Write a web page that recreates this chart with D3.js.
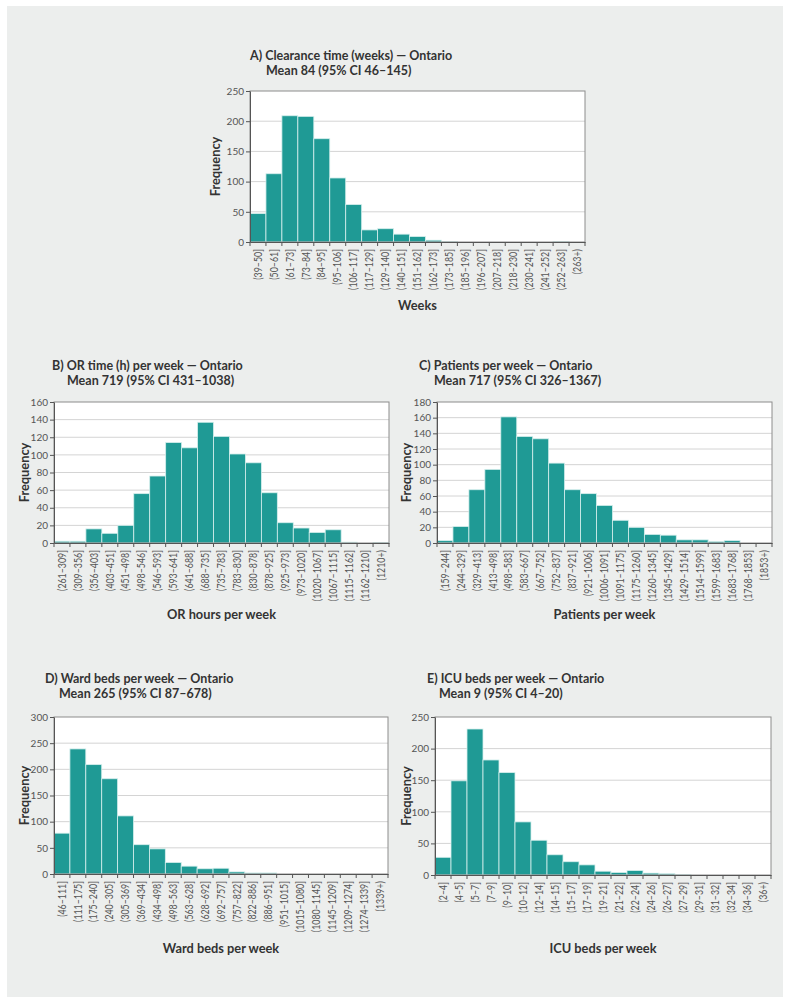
<!DOCTYPE html>
<html><head><meta charset="utf-8">
<script src="https://cdn.jsdelivr.net/npm/d3@7"></script>
<style>body{margin:0;background:#fff;} svg{display:block;}</style>
</head><body><svg id="c" width="791" height="1004"></svg>
<script>
// ---- Data ----
const clearanceLabels = ["(39–50]","(50–61]","(61–73]","(73–84]","(84–95]","(95–106]","(106–117]","(117–129]","(129–140]","(140–151]","(151–162]","(162–173]","(173–185]","(185–196]","(196–207]","(207–218]","(218–230]","(230–241]","(241–252]","(252–263]","(263+)"];
const clearanceValues = [47,113,209,208,171,106,62,20,22,13,9,3,1,0,0,0,0,0,0,1,0];
const clearanceTicks = [0,50,100,150,200,250];

const orLabels = ["(261–309]","(309–356]","(356–403]","(403–451]","(451–498]","(498–546]","(546–593]","(593–641]","(641–688]","(688–735]","(735–783]","(783–830]","(830–878]","(878–925]","(925–973]","(973–1020]","(1020–1067]","(1067–1115]","(1115–1162]","(1162–1210]","(1210+)"];
const orValues = [2,2,16,11,20,56,76,114,108,137,121,101,91,57,23,17,12,15,1,0,0.6];
const orTicks = [0,20,40,60,80,100,120,140,160];

const patientLabels = ["(159–244]","(244–329]","(329–413]","(413–498]","(498–583]","(583–667]","(667–752]","(752–837]","(837–921]","(921–1006]","(1006–1091]","(1091–1175]","(1175–1260]","(1260–1345]","(1345–1429]","(1429–1514]","(1514–1599]","(1599–1683]","(1683–1768]","(1768–1853]","(1853+)"];
const patientValues = [3,21,68,94,161,136,133,102,68,63,48,29,20,11,10,4,4,2,3,0,0];
const patientTicks = [0,20,40,60,80,100,120,140,160,180];

const wardLabels = ["(46–111]","(111–175]","(175–240]","(240–305]","(305–369]","(369–434]","(434–498]","(498–563]","(563–628]","(628–692]","(692–757]","(757–822]","(822–886]","(886–951]","(951–1015]","(1015–1080]","(1080–1145]","(1145–1209]","(1209–1274]","(1274–1339]","(1339+)"];
const wardValues = [78,239,209,182,111,56,48,22,15,10,11,4,2,2,0,0,0,0,0,0,0];
const wardTicks = [0,50,100,150,200,250,300];

const icuLabels = ["(2–4]","(4–5]","(5–7]","(7–9]","(9–10]","(10–12]","(12–14]","(14–15]","(15–17]","(17–19]","(19–21]","(21–22]","(22–24]","(24–26]","(26–27]","(27–29]","(29–31]","(31–32]","(32–34]","(34–36]","(36+)"];
const icuValues = [28,149,231,182,162,84,55,32,21,16,6,4,7,3,2,1,0,0,0,0,0];
const icuTicks = [0,50,100,150,200,250];

// ---- Drawing ----
const FONT = "Lato, 'Open Sans', sans-serif";
const BAR = "#1f9a95";
const svg = d3.select("#c");
svg.append("rect").attr("x",7).attr("y",6).attr("width",776).attr("height",991).attr("fill","#eceeed");

function panel(o){
  const x = d3.scaleBand().domain(o.labels).range([o.x0, o.x1]);
  const y = d3.scaleLinear().domain([0, o.ticks[o.ticks.length-1]]).range([o.y1, o.y0]);
  const g = svg.append("g");
  g.append("rect").attr("x",o.x0).attr("y",o.y0).attr("width",o.x1-o.x0).attr("height",o.y1-o.y0).attr("fill","#fff");
  g.selectAll("line.grid").data(o.ticks.slice(1,-1)).join("line")
    .attr("x1",o.x0).attr("x2",o.x1).attr("y1",d=>y(d)).attr("y2",d=>y(d))
    .attr("stroke","#d4d4d4").attr("stroke-width",1);
  g.selectAll("rect.bar").data(o.values).join("rect")
    .attr("x",(d,i)=>x(o.labels[i])).attr("width",x.bandwidth())
    .attr("y",d=>y(d)).attr("height",d=>o.y1-y(d))
    .attr("fill",BAR).attr("stroke","#d6efed").attr("stroke-width",0.8);
  g.append("rect").attr("x",o.x0).attr("y",o.y0).attr("width",o.x1-o.x0).attr("height",o.y1-o.y0)
    .attr("fill","none").attr("stroke","#8c8c8c").attr("stroke-width",1);
  // y axis
  const ya = g.append("g").attr("transform",`translate(${o.x0},0)`)
    .call(d3.axisLeft(y).tickValues(o.ticks).tickSize(4).tickPadding(2).tickSizeOuter(0));
  ya.select(".domain").attr("stroke","#555");
  ya.selectAll(".tick line").attr("stroke","#555");
  ya.selectAll("text").attr("font-family",FONT).attr("font-size",10).attr("fill","#555");
  // x axis
  const xa = g.append("g").attr("transform",`translate(0,${o.y1})`)
    .call(d3.axisBottom(x).tickSize(0).tickSizeOuter(0));
  xa.select(".domain").attr("stroke","#555");
  xa.selectAll("text").attr("font-family",FONT).attr("font-size",10.5).attr("fill","#555")
    .attr("transform","rotate(-90) scale(0.84,1)").attr("text-anchor","end")
    .attr("x",-8.5).attr("y",0).attr("dy","0.35em");
  const edges = o.labels.map(l=>x(l)).concat([o.x1]);
  xa.selectAll("line.edge").data(edges).join("line")
    .attr("x1",d=>d).attr("x2",d=>d).attr("y1",0).attr("y2",4).attr("stroke","#555");
  // labels
  g.append("text").attr("transform",`translate(${o.x0+o.yLabDx},${(o.y0+o.y1)/2}) rotate(-90)`)
    .attr("text-anchor","middle").attr("dy","0.35em")
    .attr("font-family",FONT).attr("font-weight",700).attr("font-size",12.8).attr("fill","#333").text("Frequency");
  g.append("text").attr("x",(o.x0+o.x1)/2).attr("y",o.xTitleY).attr("text-anchor","middle")
    .attr("font-family",FONT).attr("font-weight",700).attr("font-size",12.8).attr("fill","#333").text(o.xTitle);
  g.append("text").attr("x",o.tx).attr("y",o.ty)
    .attr("font-family",FONT).attr("font-weight",700).attr("font-size",12.5).attr("fill","#333").text(o.title);
  g.append("text").attr("x",o.mx).attr("y",o.ty+15)
    .attr("font-family",FONT).attr("font-weight",700).attr("font-size",12.5).attr("fill","#333").text(o.mean);
}

panel({labels:clearanceLabels, values:clearanceValues, ticks:clearanceTicks,
  x0:250, x1:585, y0:91, y1:242, yLabDx:-34, xTitleY:310, xTitle:"Weeks",
  tx:250, ty:60, mx:266, title:"A) Clearance time (weeks) — Ontario", mean:"Mean 84 (95% CI 46–145)"});
panel({labels:orLabels, values:orValues, ticks:orTicks,
  x0:54, x1:389, y0:402, y1:543, yLabDx:-29, xTitleY:619, xTitle:"OR hours per week",
  tx:52, ty:370, mx:67, title:"B) OR time (h) per week — Ontario", mean:"Mean 719 (95% CI 431–1038)"});
panel({labels:patientLabels, values:patientValues, ticks:patientTicks,
  x0:437, x1:772, y0:402, y1:543, yLabDx:-30, xTitleY:619, xTitle:"Patients per week",
  tx:419, ty:370, mx:434, title:"C) Patients per week — Ontario", mean:"Mean 717 (95% CI 326–1367)"});
panel({labels:wardLabels, values:wardValues, ticks:wardTicks,
  x0:54, x1:388, y0:717, y1:874, yLabDx:-29, xTitleY:953, xTitle:"Ward beds per week",
  tx:45, ty:683, mx:59, title:"D) Ward beds per week — Ontario", mean:"Mean 265 (95% CI 87–678)"});
panel({labels:icuLabels, values:icuValues, ticks:icuTicks,
  x0:435, x1:771, y0:717, y1:875, yLabDx:-28, xTitleY:953, xTitle:"ICU beds per week",
  tx:427, ty:683, mx:439, title:"E) ICU beds per week — Ontario", mean:"Mean 9 (95% CI 4–20)"});
</script></body></html>
